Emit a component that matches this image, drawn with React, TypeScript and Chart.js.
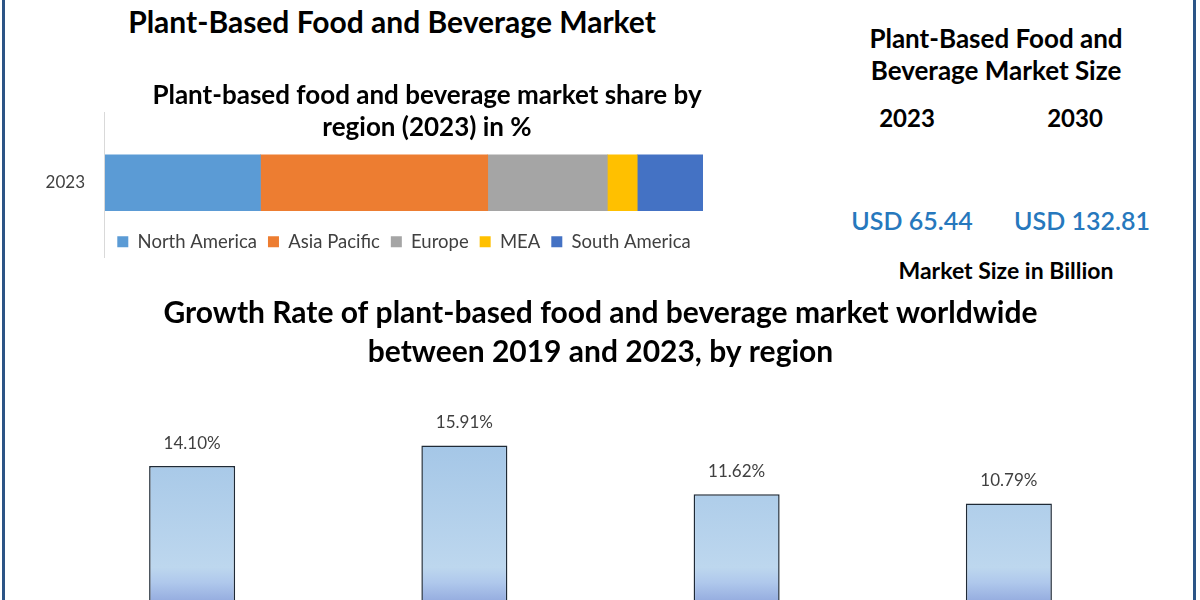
import React, { useEffect, useRef } from "react";
import { Chart, registerables } from "chart.js";

Chart.register(...registerables);

// ---- data ----
const shareYear = ["2023"];
const regions = ["North America", "Asia Pacific", "Europe", "MEA", "South America"];
const shareValues = [26, 38, 20, 5, 11];
const regionColors = ["#5B9BD5", "#ED7D31", "#A5A5A5", "#FFC000", "#4472C4"];

const growthCategories = ["North America", "Asia Pacific", "Europe", "MEA"];
const growthValues = [14.1, 15.91, 11.62, 10.79];
const growthLabels = ["14.10%", "15.91%", "11.62%", "10.79%"];

const FONT = "Lato, 'Open Sans', sans-serif";

const axisLinePlugin = {
  id: "axisLine",
  afterDraw(chart: any) {
    const { ctx, chartArea } = chart;
    const legend = chart.legend;
    ctx.save();
    ctx.strokeStyle = "#D9D9D9";
    ctx.lineWidth = 1;
    ctx.beginPath();
    const x = Math.round(chartArea.left) - 0.5;
    ctx.moveTo(x, chartArea.top - 32);
    ctx.lineTo(x, legend ? legend.bottom - 3 : chartArea.bottom);
    ctx.stroke();
    ctx.restore();
  },
};

const valueLabelPlugin = {
  id: "valueLabels",
  afterDatasetsDraw(chart: any) {
    const { ctx } = chart;
    const meta = chart.getDatasetMeta(0);
    ctx.save();
    ctx.font = `17px ${FONT}`;
    ctx.fillStyle = "#404040";
    ctx.textAlign = "center";
    ctx.textBaseline = "middle";
    meta.data.forEach((bar: any, i: number) => {
      ctx.fillText(growthLabels[i], bar.x, bar.y - 23);
    });
    ctx.restore();
  },
};

function ShareChart() {
  const ref = useRef<HTMLCanvasElement>(null);
  useEffect(() => {
    const chart = new Chart(ref.current!, {
      type: "bar",
      data: {
        labels: shareYear,
        datasets: regions.map((r, i) => ({
          label: r,
          data: [shareValues[i]],
          backgroundColor: regionColors[i],
          borderWidth: 0,
          barThickness: 56,
        })),
      },
      options: {
        indexAxis: "y",
        responsive: false,
        animation: false,
        layout: { padding: 0 },
        scales: {
          x: { stacked: true, min: 0, max: 100, display: false },
          y: {
            stacked: true,
            grid: { display: false },
            border: { display: false },
            ticks: { color: "#404040", font: { family: FONT, size: 17 }, padding: 12 },
            afterFit: (s: any) => {
              s.width = 85;
            },
          },
          yRight: {
            type: "category",
            labels: shareYear,
            position: "right",
            grid: { display: false },
            border: { display: false },
            ticks: { display: false },
            afterFit: (s: any) => {
              s.width = 131;
            },
          },
        },
        plugins: {
          title: {
            display: true,
            text: ["Plant-based food and beverage market share by", "region (2023) in %"],
            color: "#000",
            font: { family: FONT, size: 26, weight: "bold", lineHeight: 1.25 },
            padding: { top: 1, bottom: 0 },
          },
          legend: {
            position: "bottom",
            fullSize: false,
            labels: {
              color: "#404040",
              font: { family: FONT, size: 18.5 },
              boxWidth: 11,
              boxHeight: 11,
              padding: 11,
            },
          },
          tooltip: { enabled: false },
        },
      } as any,
      plugins: [axisLinePlugin],
    });
    return () => chart.destroy();
  }, []);
  return (
    <canvas
      ref={ref}
      width={814}
      height={183}
      style={{ position: "absolute", left: 20, top: 78, width: 814, height: 183 }}
    />
  );
}

function GrowthChart() {
  const ref = useRef<HTMLCanvasElement>(null);
  useEffect(() => {
    const chart = new Chart(ref.current!, {
      type: "bar",
      data: {
        labels: growthCategories,
        datasets: [
          {
            label: "Growth Rate",
            data: growthValues,
            backgroundColor: (c: any) => {
              const area = c.chart.chartArea;
              if (!area) return "#A9C8E8";
              const g = c.chart.ctx.createLinearGradient(0, area.top, 0, area.bottom);
              g.addColorStop(0, "#98BEE3");
              g.addColorStop(0.85, "#BDD7EE");
              g.addColorStop(0.92, "#AFC8EC");
              g.addColorStop(1, "#97AEE0");
              return g;
            },
            borderColor: "#1F2A36",
            borderWidth: 1.5,
            categoryPercentage: 1,
            barPercentage: 0.316,
          },
        ],
      },
      options: {
        responsive: false,
        animation: false,
        layout: { padding: 0 },
        scales: {
          x: { display: false },
          y: { display: false, min: 2.3, max: 21.5 },
        },
        plugins: {
          title: {
            display: true,
            text: [
              "Growth Rate of plant-based food and beverage market worldwide",
              "between 2019 and 2023, by region",
            ],
            color: "#000",
            font: { family: FONT, size: 30, weight: "bold", lineHeight: 1.3 },
            padding: { top: 4, bottom: 10 },
          },
          legend: { display: false },
          tooltip: { enabled: false },
        },
      } as any,
      plugins: [valueLabelPlugin],
    });
    return () => chart.destroy();
  }, []);
  return (
    <canvas
      ref={ref}
      width={1089}
      height={310}
      style={{ position: "absolute", left: 56, top: 290, width: 1089, height: 310 }}
    />
  );
}

const txt = (
  content: string,
  cx: number,
  cy: number,
  size: number,
  weight: number,
  color = "#000"
) => (
  <div
    style={{
      position: "absolute",
      left: cx - 300,
      top: cy - size,
      width: 600,
      height: size * 2,
      lineHeight: `${size * 2}px`,
      textAlign: "center",
      fontFamily: FONT,
      fontSize: size,
      fontWeight: weight,
      color,
      whiteSpace: "nowrap",
    }}
  >
    {content}
  </div>
);

export default function App() {
  return (
    <div
      style={{
        position: "absolute",
        left: 0,
        top: 0,
        width: 1200,
        height: 600,
        overflow: "hidden",
        background: "#fff",
      }}
    >
      <div style={{ position: "absolute", left: 2, top: 0, width: 3, height: 600, background: "#2C5486" }} />
      <div style={{ position: "absolute", left: 1193, top: 0, width: 3, height: 600, background: "#2C5486" }} />
      {txt("Plant-Based Food and Beverage Market", 392, 21, 30, 700)}
      {txt("Plant-Based Food and", 996, 38, 26, 700)}
      {txt("Beverage Market Size", 996, 70, 26, 700)}
      {txt("2023", 907, 118, 24, 700)}
      {txt("2030", 1075, 118, 24, 700)}
      {txt("USD 65.44", 912, 220, 25, 600, "#2678BD")}
      {txt("USD 132.81", 1082, 220, 25, 600, "#2678BD")}
      {txt("Market Size in Billion", 1006, 270, 23, 700)}
      <ShareChart />
      <GrowthChart />
    </div>
  );
}
